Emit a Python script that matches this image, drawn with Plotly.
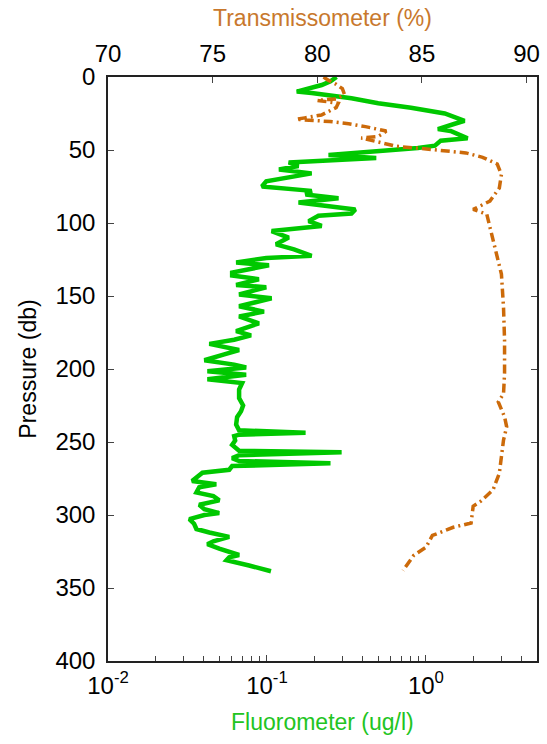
import plotly.graph_objects as go

# Fluorometer profile (ug/l) vs pressure (db)
fluor_pressure = [0, 3, 5.5, 10, 11, 12.7, 14.5, 18, 21, 25, 30, 32, 35.7, 37, 42, 43.6, 47, 48.6,
                  51.5, 53.5, 55.5, 57, 58.5, 61, 63.4, 66, 69, 71.4, 75, 78, 80.5, 83, 86, 90.7,
                  93.5, 95, 98.7, 102, 105.5, 110, 114.6, 118, 122.5, 124, 127, 129, 134, 136,
                  138.5, 142.5, 144, 149, 151.6, 157, 160.7, 164, 168.7, 174, 177, 180, 182.8,
                  187, 190, 194, 197, 199, 201.6, 204, 207, 209.6, 214, 220, 225, 229, 233, 238,
                  242, 243.7, 245, 246, 249, 252, 256, 257, 259, 261, 263, 264.6, 266.5, 269,
                  271, 274, 276.7, 279, 281, 284.6, 287, 290, 293, 296, 298.7, 300, 302.8, 306,
                  309.6, 312, 315, 318, 320, 323, 327.4, 329, 331, 334.6, 336.5, 338.5]
fluor_values = [0.274, 0.251, 0.221, 0.154, 0.191, 0.270, 0.340, 0.501, 0.806, 1.314, 1.75, 1.52,
                1.19, 1.43, 1.83, 1.24, 1.14, 0.89, 0.416, 0.244, 0.487, 0.211, 0.137, 0.158,
                0.119, 0.191, 0.128, 0.099, 0.093, 0.191, 0.175, 0.282, 0.158, 0.360, 0.340,
                0.211, 0.183, 0.221, 0.107, 0.137, 0.114, 0.148, 0.191, 0.099, 0.064, 0.103,
                0.0604, 0.0604, 0.089, 0.064, 0.099, 0.0668, 0.107, 0.0668, 0.0958, 0.0668,
                0.089, 0.064, 0.0794, 0.0622, 0.0434, 0.0668, 0.0539, 0.0404, 0.0622, 0.074,
                0.0422, 0.074, 0.0422, 0.0698, 0.0668, 0.0668, 0.0708, 0.0687, 0.0649, 0.064,
                0.0668, 0.175, 0.0668, 0.0622, 0.0631, 0.0604, 0.0668, 0.295, 0.0668, 0.0604,
                0.0668, 0.251, 0.0604, 0.0579, 0.0393, 0.036, 0.0338, 0.048, 0.0375, 0.036,
                0.046, 0.0501, 0.0375, 0.0404, 0.0501, 0.0404, 0.0325, 0.0348, 0.036, 0.0434,
                0.0579, 0.046, 0.0422, 0.0501, 0.0668, 0.0579, 0.0557, 0.0772, 0.0917, 0.106]

# Transmissometer profile (%) vs pressure (db)
trans_pressure = [0, 2, 5, 8, 12, 15, 16, 18, 21, 24, 26, 28, 29, 30.5, 32, 34, 37, 39, 40.7,
                  41.8, 43, 45, 47.5, 49, 51, 52, 55, 59.6, 66.8, 76, 85, 90.7, 94, 103, 117,
                  135, 157.7, 180.5, 203, 217, 222.5, 232.8, 239.6, 248.7, 271.4, 282.8, 290.7,
                  294, 305.5, 308.4, 314, 322, 327.8, 338]
trans_values = [80.3, 80.5, 80.9, 81.2, 81.3, 80.9, 80.0, 81.0, 80.9, 80.5, 80.2, 79.4, 79.0,
                80.6, 81.5, 82.3, 83.3, 83.1, 82.9, 82.1, 82.5, 83.0, 83.8, 85.0, 86.2, 87.1,
                87.9, 88.6, 88.8, 88.7, 88.25, 87.45, 88.1, 88.25, 88.5, 88.8, 88.9, 88.95,
                88.95, 88.9, 88.65, 88.95, 89.05, 88.9, 88.7, 88.4, 87.8, 87.45, 87.35, 86.5,
                85.5, 85.2, 84.6, 84.1]

pressure_ticks = [0, 50, 100, 150, 200, 250, 300, 350, 400]
trans_ticks = [70, 75, 80, 85, 90]
fluor_ticks = [0.01, 0.1, 1]
fluor_ticktext = ["10<sup>-2</sup>", "10<sup>-1</sup>", "10<sup>0</sup>"]
fluor_minor = [0.02, 0.03, 0.04, 0.05, 0.06, 0.07, 0.08, 0.09,
               0.2, 0.3, 0.4, 0.5, 0.6, 0.7, 0.8, 0.9, 2, 3, 4]

GREEN = "#00c800"
ORANGE = "#cc6a0a"
FONT = "Liberation Sans, Arial, sans-serif"

fig = go.Figure()
fig.add_trace(go.Scatter(x=fluor_values, y=fluor_pressure, mode="lines",
                         line=dict(color=GREEN, width=4.5), xaxis="x", yaxis="y",
                         name="Fluorometer"))
fig.add_trace(go.Scatter(x=trans_values, y=trans_pressure, mode="lines",
                         line=dict(color=ORANGE, width=3.5, dash="9px,4px,2px,4px"),
                         xaxis="x2", yaxis="y", name="Transmissometer"))

axis_line = dict(showline=True, linecolor="#222222", linewidth=1.5, showgrid=False,
                 zeroline=False, ticks="inside", tickcolor="#444444", tickwidth=1,
                 automargin=False,
                 tickfont=dict(family=FONT, size=24, color="black"))

fig.update_layout(
    width=547, height=744,
    margin=dict(l=108, r=10, t=77, b=83),
    paper_bgcolor="white", plot_bgcolor="white",
    showlegend=False,
    font=dict(family=FONT, color="black"),
    xaxis=dict(type="log", range=[-2, 0.699], tickvals=fluor_ticks, ticktext=fluor_ticktext,
               ticklen=6, side="bottom", ticklabelstandoff=2,
               minor=dict(tickvals=fluor_minor, ticks="inside", ticklen=5,
                          tickcolor="#444444", showgrid=False),
               **axis_line),
    xaxis2=dict(range=[70, 90.5], tickvals=trans_ticks, overlaying="x", side="top",
                ticklen=6, anchor="y", ticklabelstandoff=4, **axis_line),
    yaxis=dict(range=[400, 0], tickvals=pressure_ticks, ticklen=6, mirror="ticks",
               ticklabelstandoff=6,
               title=dict(text="Pressure (db)", font=dict(family=FONT, size=23, color="black"),
                          standoff=12),
               **axis_line),
    annotations=[
        dict(text="Transmissometer (%)", x=0.5, y=1.0, xref="paper", yref="paper",
             yanchor="bottom", yshift=44, showarrow=False,
             font=dict(family=FONT, size=23, color="#c8782d")),
        dict(text="Fluorometer (ug/l)", x=0.5, y=0.0, xref="paper", yref="paper",
             yanchor="top", yshift=-46, showarrow=False,
             font=dict(family=FONT, size=23, color="#22c422")),
    ],
)

fig.write_html("out.html", config={"displayModeBar": False},
               post_script="document.body.style.margin='0px';document.body.style.overflow='hidden';")
